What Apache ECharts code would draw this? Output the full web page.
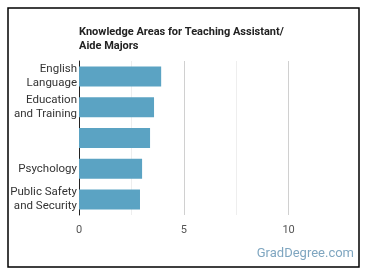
<!DOCTYPE html>
<html>
<head>
<meta charset="utf-8">
<script src="https://cdn.jsdelivr.net/npm/echarts@6/dist/echarts.min.js"></script>
<style>
  html, body { margin: 0; padding: 0; background: #fff; }
  #chart { width: 370px; height: 278px; }
</style>
</head>
<body>
<div id="chart"></div>
<script>
// knowledge areas, top to bottom as in the picture
var categories = ['English\nLanguage', 'Education\nand Training', '', 'Psychology', 'Public Safety\nand Security'];
var scores = [3.92, 3.58, 3.39, 3.01, 2.91];
var xTicks = [0, 5, 10];

var chart = echarts.init(document.getElementById('chart'));
chart.setOption({
	animation: false,
	textStyle: { fontFamily: 'Roboto' },
	title: {
		text: 'Knowledge Areas for Teaching Assistant/\nAide Majors',
		left: 74,
		top: 20,
		textStyle: { fontSize: 11, fontWeight: 'bold', color: '#222', lineHeight: 14, fontFamily: 'Roboto' }
	},
	grid: { left: 79, right: 29, top: 61, bottom: 63, containLabel: false },
	xAxis: {
		type: 'value',
		min: 0,
		max: 12.5,
		interval: 2.5,
		axisLine: { show: false },
		axisTick: { show: false },
		axisLabel: {
			color: '#555',
			fontSize: 11,
			margin: 10,
			formatter: function (v) {
				return xTicks.indexOf(v) >= 0 ? String(v) : '';
			}
		},
		splitLine: {
			lineStyle: { color: ['#333', '#eeeeee', '#d0d0d0', '#eeeeee', '#d0d0d0', 'rgba(0,0,0,0)'], width: 1 }
		}
	},
	yAxis: {
		type: 'category',
		inverse: true,
		data: categories,
		axisLine: { show: true, lineStyle: { color: '#222', width: 1 } },
		axisTick: { show: false },
		axisLabel: { color: '#333', fontSize: 11.5, lineHeight: 14, margin: 2, align: 'right' }
	},
	series: [{
		type: 'bar',
		data: scores,
		barWidth: '65%',
		itemStyle: { color: '#5ba3c3' }
	}],
	graphic: [
		{
			type: 'rect',
			shape: { x: 8, y: 8, width: 351, height: 259 },
			style: { fill: 'none', stroke: '#000', lineWidth: 1.5 },
			silent: true
		},
		{
			type: 'text',
			right: 16,
			top: 247,
			style: { text: 'GradDegree.com', fill: '#7fa6c0', font: '13px Roboto' }
		}
	]
});
</script>
</body>
</html>
